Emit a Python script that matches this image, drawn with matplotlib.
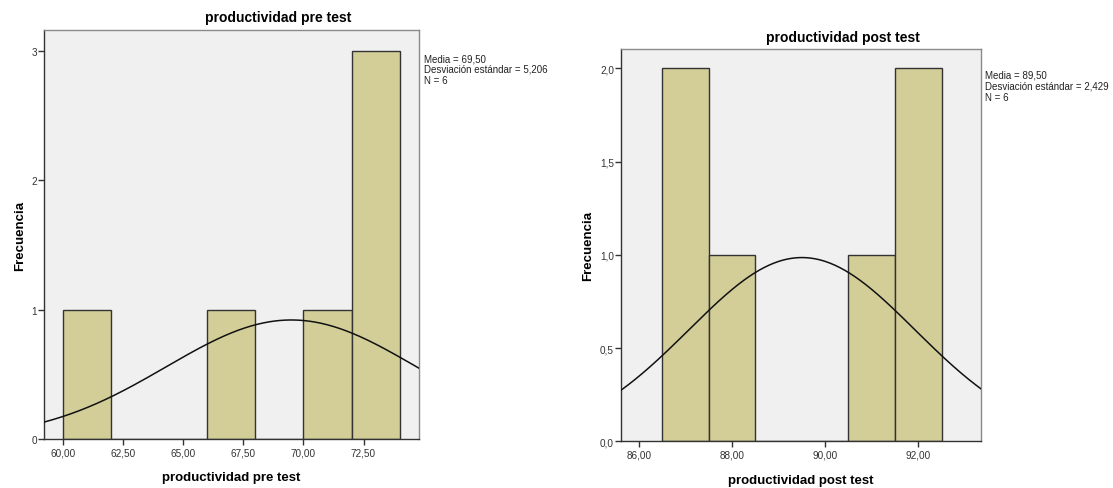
import numpy as np
import matplotlib
matplotlib.use("Agg")
import matplotlib.pyplot as plt

plt.rcParams["font.family"] = ["Liberation Sans", "DejaVu Sans"]

# productivity scores, before and after
pre_scores = [60, 67, 71, 73, 73, 73]
post_scores = [87, 87, 88, 91, 92, 92]

pre_bins = [60, 62, 64, 66, 68, 70, 72, 74]
post_bins = [86.5, 87.5, 88.5, 89.5, 90.5, 91.5, 92.5]

pre_xticks = [60.0, 62.5, 65.0, 67.5, 70.0, 72.5]
post_xticks = [86.0, 88.0, 90.0, 92.0]
pre_yticks = [0, 1, 2, 3]
post_yticks = [0.0, 0.5, 1.0, 1.5, 2.0]

BAR_COLOR = "#d3ce98"
FACE_COLOR = "#f0f0f0"


def comma(v, nd):
    return f"{v:.{nd}f}".replace(".", ",")


def draw_hist(fig, rect, scores, bins, xlim, ylim, xticks, yticks, ydec,
              title, title_pos, stats_pos):
    ax = fig.add_axes(rect)
    ax.set_facecolor(FACE_COLOR)
    ax.hist(scores, bins=bins, color=BAR_COLOR, edgecolor="#333333",
            linewidth=1.0, zorder=2)

    # normal curve scaled to counts per bin
    data = np.array(scores, dtype=float)
    mean = data.mean()
    sd = data.std(ddof=1)
    width = bins[1] - bins[0]
    xs = np.linspace(xlim[0], xlim[1], 300)
    ys = len(data) * width * np.exp(-0.5 * ((xs - mean) / sd) ** 2) / (sd * np.sqrt(2 * np.pi))
    ax.plot(xs, ys, color="#111111", linewidth=1.1, zorder=3)

    ax.set_xlim(*xlim)
    ax.set_ylim(*ylim)
    ax.set_xticks(xticks)
    ax.set_xticklabels([comma(t, 2) for t in xticks])
    ax.set_yticks(yticks)
    ax.set_yticklabels([comma(t, ydec) for t in yticks])
    ax.tick_params(direction="out", length=4, width=1, color="#333333",
                   labelsize=7.2, labelcolor="#333333", pad=2)
    ax.tick_params(axis="y", pad=1)

    for side in ["top", "right"]:
        ax.spines[side].set_color("#8a8a8a")
    for side in ["left", "bottom"]:
        ax.spines[side].set_color("#333333")
    for sp in ax.spines.values():
        sp.set_linewidth(1.0)

    ax.set_xlabel(title, fontsize=9.5, fontweight="bold", labelpad=10)
    ax.set_ylabel("Frecuencia", fontsize=9.5, fontweight="bold", labelpad=4)

    fig.text(title_pos[0], title_pos[1], title, fontsize=10, fontweight="bold",
             ha="center", va="center")

    stats = (f"Media = {comma(mean, 2)}\n"
             f"Desviación estándar = {comma(sd, 3)}\n"
             f"N = {len(data)}")
    fig.text(stats_pos[0], stats_pos[1], stats, fontsize=7.0, ha="left",
             va="top", color="#222222", linespacing=1.1)
    return ax


fig = plt.figure(figsize=(11.13, 4.89), dpi=100)
W, H = 1113, 489

draw_hist(fig, [43.9 / W, 49 / H, 374.7 / W, 409 / H],
          pre_scores, pre_bins, (59.21, 74.79), (0, 3.16),
          pre_xticks, pre_yticks, 0,
          "productividad pre test", (278 / W, 1 - 18 / H),
          (424 / W, 1 - 54 / H))

draw_hist(fig, [621 / W, 46.7 / H, 359.7 / W, 392.3 / H],
          post_scores, post_bins, (85.614, 93.34), (0, 2.104),
          post_xticks, post_yticks, 1,
          "productividad post test", (843 / W, 1 - 38 / H),
          (985 / W, 1 - 71 / H))

fig.savefig("out.png", dpi=100)
